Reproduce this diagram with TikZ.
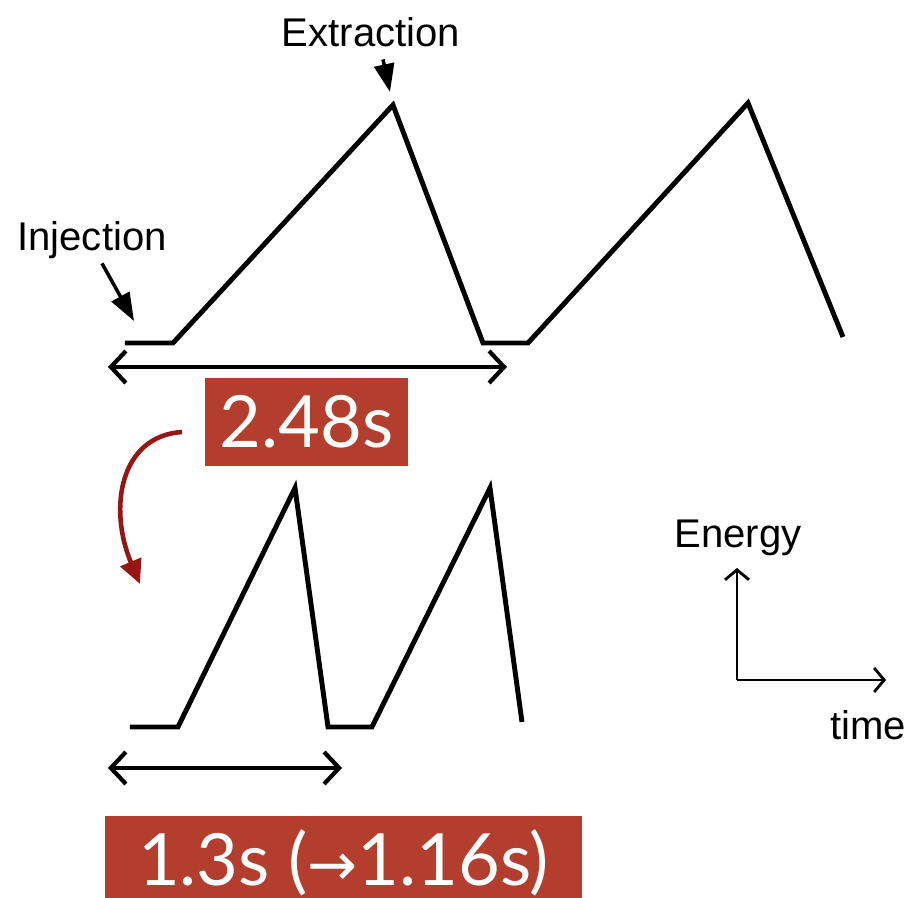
\documentclass[tikz,border=0pt]{standalone}
\usepackage{fontspec}
\setmainfont{Liberation Sans}
\newfontfamily\boxfont{Lato}
\newfontfamily\symfont{DejaVu Sans}
\usetikzlibrary{arrows.meta}
\definecolor{boxred}{RGB}{180,62,46}
\definecolor{arrowred}{RGB}{150,22,20}
\tikzset{
  wave/.style={line width=1.4pt},
  span/.style={line width=1.2pt,{Straight Barb[length=0.15cm,width=0.32cm]}-{Straight Barb[length=0.15cm,width=0.32cm]}},
  pointer/.style={line width=1pt,-{Triangle[length=0.28cm,width=0.2cm]}},
  label/.style={font=\fontsize{11.4}{13}\selectfont,inner sep=0pt},
  redbox/.style={fill=boxred,text=white,font=\boxfont\fontsize{20.5}{24}\selectfont,
    text height=0.52cm,inner xsep=0.12cm,inner ysep=0.18cm,anchor=north}
}
\begin{document}
\begin{tikzpicture}[>=Stealth]
\useasboundingbox (0,0) rectangle (9.08,8.98);
% 上段の波形（2.48s 周期）
\coordinate (t0) at (1.25,5.55);
\coordinate (t1) at (1.73,5.55);
\coordinate (tpk1) at (3.93,7.93);
\coordinate (t2) at (4.83,5.55);
\coordinate (t3) at (5.28,5.55);
\coordinate (tpk2) at (7.48,7.95);
\coordinate (t4) at (8.43,5.61);
\draw[wave] (t0) -- (t1) -- (tpk1) -- (t2) -- (t3) -- (tpk2) -- (t4);
% 入射・取り出しの矢印
\node[label] (inj) at (0.92,6.58) {Injection};
\coordinate (injtip) at (1.34,5.77);
\draw[pointer] ([xshift=0.1cm,yshift=-0.04cm]inj.south) -- (injtip);
\node[label] (ext) at (3.71,8.66) {Extraction};
\coordinate (exttip) at (3.90,8.06);
\draw[pointer] ([xshift=0.12cm,yshift=-0.12cm]ext.south) -- (exttip);
% 周期の両矢印
\coordinate (ta) at (1.08,5.31);
\coordinate (tb) at (5.07,5.31);
\draw[span] (ta) -- (tb);
\node[redbox,minimum width=2.03cm,text depth=0cm] (oldT) at (3.065,5.21) {2.48s};
% 赤い曲がり矢印
\coordinate (bendstart) at (1.82,4.66);
\coordinate (bendtip) at (1.40,3.14);
\draw[arrowred,line width=1.3pt,-{Triangle[length=0.24cm,width=0.22cm]}]
  (bendstart) .. controls (1.2,4.62) and (1.08,3.9) .. (bendtip);
% 下段の波形（1.3s 周期）
\coordinate (b0) at (1.30,1.71);
\coordinate (b1) at (1.78,1.71);
\coordinate (bpk1) at (2.95,4.10);
\coordinate (b2) at (3.28,1.71);
\coordinate (b3) at (3.72,1.71);
\coordinate (bpk2) at (4.90,4.10);
\coordinate (b4) at (5.22,1.76);
\draw[wave] (b0) -- (b1) -- (bpk1) -- (b2) -- (b3) -- (bpk2) -- (b4);
\coordinate (ba) at (1.08,1.30);
\coordinate (bb) at (3.42,1.30);
\draw[span] (ba) -- (bb);
\node[redbox,minimum width=4.77cm,text depth=0.3cm] (newT) at (3.435,0.83)
  {1.3s ({\symfont\fontsize{17}{20}\selectfont →}1.16s)};
% 座標軸
\coordinate (origin) at (7.37,2.18);
\coordinate (eaxis) at (7.37,3.30);
\coordinate (taxis) at (8.86,2.18);
\draw[line width=0.8pt,-{Straight Barb[length=0.1cm,width=0.24cm]}] (origin) -- (eaxis);
\draw[line width=0.8pt,-{Straight Barb[length=0.1cm,width=0.24cm]}] (origin) -- (taxis);
\node[label] (energy) at (7.38,3.60) {Energy};
\node[label] (time) at (8.68,1.73) {time};
\end{tikzpicture}
\end{document}
